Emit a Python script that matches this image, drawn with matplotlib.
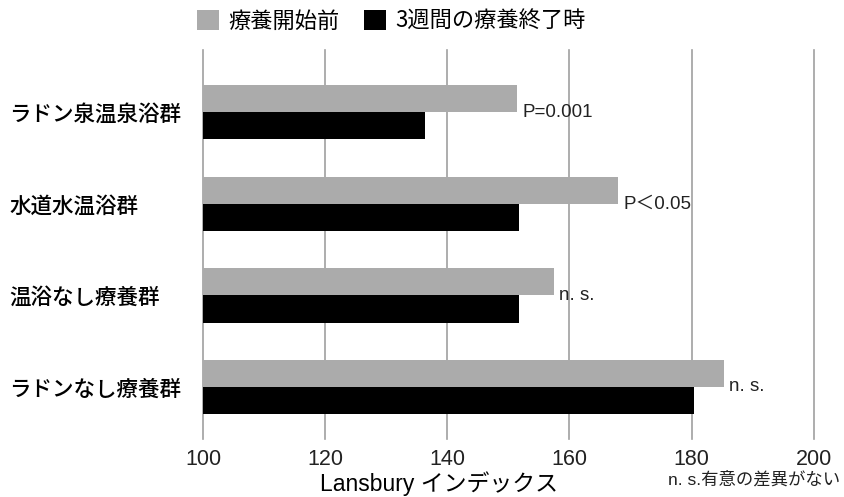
import matplotlib
matplotlib.use('Agg')
import matplotlib.pyplot as plt
from matplotlib.patches import Patch
import numpy as np

# データ
groups = ['ラドン泉温泉浴群', '水道水温浴群', '温浴なし療養群', 'ラドンなし療養群']
before = [151.4, 167.9, 157.4, 185.3]
after = [136.4, 151.7, 151.8, 180.4]
p_labels = ['P=0.001', 'P＜0.05', 'n. s.', 'n. s.']
series_names = ['療養開始前', '3週間の療養終了時']
xticks = [100, 120, 140, 160, 180, 200]

GREY = '#ababab'
JP = ['Noto Sans CJK JP', 'DejaVu Sans']
LAT = ['Liberation Sans', 'Noto Sans CJK JP']

plt.rcParams['font.family'] = JP

fig = plt.figure(figsize=(8.44, 4.97), dpi=100)
ax = fig.add_axes([0.2405, 0.1167, 0.7236, 0.7827])

y = np.arange(len(groups))
h = 0.297
ax.barh(y - h / 2, before, height=h, left=0, color=GREY, zorder=2)
ax.barh(y + h / 2, after, height=h, left=0, color='black', zorder=2)

# p値のラベル
for i, txt in enumerate(p_labels):
    ax.annotate(txt, xy=(before[i], y[i]), xytext=(4, 0), textcoords='offset points',
                va='center', ha='left', fontsize=13.5, family=LAT, color='#222222')

ax.set_xlim(100, 200)
ax.set_ylim(len(groups) - 1 + 0.568, -0.680)
ax.set_xticks(xticks)
ax.set_xticklabels([str(t) for t in xticks], family=LAT, fontsize=15.5, color='#222222')
ax.set_yticks(y)
ax.set_yticklabels(groups, ha='left', fontsize=15.5, fontweight='medium')
ax.tick_params(axis='y', length=0, pad=194 * 0.72)
ax.tick_params(axis='x', length=0, pad=7)

ax.grid(axis='x', color='#a0a0a0', linewidth=1.2, zorder=0)
ax.set_axisbelow(True)
for gl in ax.get_xgridlines():
    gl.set_clip_on(False)
for s in ax.spines.values():
    s.set_visible(False)

# 凡例
handles = [Patch(facecolor=GREY, label=series_names[0]),
           Patch(facecolor='black', label=series_names[1])]
fig.legend(handles=handles, loc='center left', bbox_to_anchor=(197 / 844, 1 - 21 / 497),
           ncol=2, frameon=False, fontsize=16, handlelength=1.0, handleheight=1.0,
           handletextpad=0.4, columnspacing=1.1, borderpad=0, borderaxespad=0)

fig.text(439 / 844, 1 - 491 / 497, 'Lansbury インデックス', ha='center', va='baseline',
         fontsize=16.5, family=LAT)
fig.text(668 / 844, 1 - 479 / 497, 'n. s.有意の差異がない', ha='left', va='center',
         fontsize=12.5, family=LAT, color='#222222')

fig.savefig('out.png', dpi=100, facecolor='white')
